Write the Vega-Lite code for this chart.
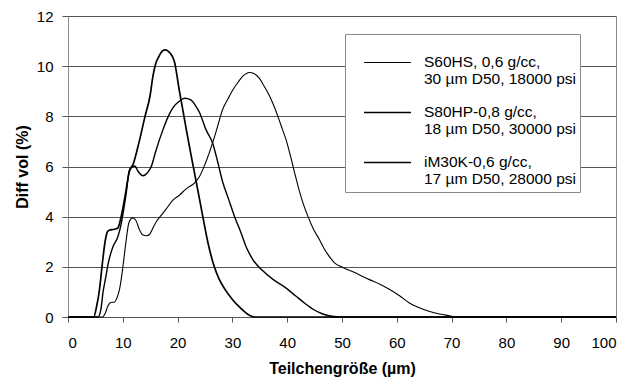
{
  "$schema": "https://vega.github.io/schema/vega-lite/v6.json",
  "width": 548,
  "height": 301,
  "autosize": {"type": "none"},
  "padding": {"left": 68, "top": 16, "right": 13, "bottom": 63},
  "background": "white",
  "config": {
    "view": {"stroke": "#8a8a8a", "strokeWidth": 1},
    "font": "Liberation Sans"
  },
  "datasets": {
    "curves": [
      {"s": "A", "x": 0, "y": 0}, {"s": "A", "x": 6.3, "y": 0}, {"s": "A", "x": 6.8, "y": 0.15}, {"s": "A", "x": 7.3, "y": 0.45}, {"s": "A", "x": 7.8, "y": 0.58}, {"s": "A", "x": 8.5, "y": 0.6}, {"s": "A", "x": 9, "y": 0.8}, {"s": "A", "x": 9.4, "y": 1.1}, {"s": "A", "x": 9.9, "y": 1.8}, {"s": "A", "x": 10.3, "y": 2.5}, {"s": "A", "x": 10.7, "y": 3.2}, {"s": "A", "x": 11.1, "y": 3.75}, {"s": "A", "x": 11.8, "y": 3.95}, {"s": "A", "x": 12.4, "y": 3.85}, {"s": "A", "x": 13, "y": 3.5}, {"s": "A", "x": 13.6, "y": 3.28}, {"s": "A", "x": 14.3, "y": 3.24}, {"s": "A", "x": 14.9, "y": 3.3}, {"s": "A", "x": 15.5, "y": 3.55}, {"s": "A", "x": 16.1, "y": 3.8}, {"s": "A", "x": 17, "y": 4.05}, {"s": "A", "x": 17.9, "y": 4.3}, {"s": "A", "x": 19.1, "y": 4.65}, {"s": "A", "x": 20.3, "y": 4.85}, {"s": "A", "x": 21.5, "y": 5.1}, {"s": "A", "x": 23.1, "y": 5.35}, {"s": "A", "x": 24, "y": 5.6}, {"s": "A", "x": 25.2, "y": 6.2}, {"s": "A", "x": 26.4, "y": 6.95}, {"s": "A", "x": 27.3, "y": 7.6}, {"s": "A", "x": 28.2, "y": 8.26}, {"s": "A", "x": 29.2, "y": 8.7}, {"s": "A", "x": 30.1, "y": 9.06}, {"s": "A", "x": 31, "y": 9.35}, {"s": "A", "x": 31.9, "y": 9.6}, {"s": "A", "x": 33.1, "y": 9.75}, {"s": "A", "x": 34, "y": 9.7}, {"s": "A", "x": 34.9, "y": 9.52}, {"s": "A", "x": 35.8, "y": 9.2}, {"s": "A", "x": 36.8, "y": 8.8}, {"s": "A", "x": 37.6, "y": 8.4}, {"s": "A", "x": 38.3, "y": 8.0}, {"s": "A", "x": 39.1, "y": 7.5}, {"s": "A", "x": 39.8, "y": 7.06}, {"s": "A", "x": 40.5, "y": 6.5}, {"s": "A", "x": 41.3, "y": 5.8}, {"s": "A", "x": 42, "y": 5.2}, {"s": "A", "x": 42.8, "y": 4.6}, {"s": "A", "x": 43.8, "y": 4.0}, {"s": "A", "x": 44.8, "y": 3.5}, {"s": "A", "x": 45.9, "y": 3.08}, {"s": "A", "x": 46.8, "y": 2.7}, {"s": "A", "x": 47.7, "y": 2.41}, {"s": "A", "x": 48.7, "y": 2.15}, {"s": "A", "x": 49.9, "y": 2.0}, {"s": "A", "x": 52, "y": 1.8}, {"s": "A", "x": 55, "y": 1.49}, {"s": "A", "x": 57, "y": 1.3}, {"s": "A", "x": 58.7, "y": 1.1}, {"s": "A", "x": 60.5, "y": 0.85}, {"s": "A", "x": 62.3, "y": 0.56}, {"s": "A", "x": 64, "y": 0.38}, {"s": "A", "x": 66, "y": 0.22}, {"s": "A", "x": 67.8, "y": 0.12}, {"s": "A", "x": 69.6, "y": 0.05}, {"s": "A", "x": 71, "y": 0}, {"s": "A", "x": 100, "y": 0},

      {"s": "B", "x": 0, "y": 0}, {"s": "B", "x": 5.5, "y": 0}, {"s": "B", "x": 6, "y": 0.3}, {"s": "B", "x": 6.4, "y": 1.0}, {"s": "B", "x": 6.9, "y": 1.6}, {"s": "B", "x": 7.3, "y": 2.1}, {"s": "B", "x": 8.2, "y": 2.8}, {"s": "B", "x": 9.1, "y": 3.2}, {"s": "B", "x": 9.6, "y": 3.6}, {"s": "B", "x": 10.1, "y": 4.2}, {"s": "B", "x": 10.6, "y": 4.9}, {"s": "B", "x": 11.2, "y": 5.85}, {"s": "B", "x": 11.8, "y": 6.0}, {"s": "B", "x": 12.2, "y": 6.02}, {"s": "B", "x": 12.8, "y": 5.8}, {"s": "B", "x": 13.7, "y": 5.63}, {"s": "B", "x": 14.5, "y": 5.75}, {"s": "B", "x": 15.2, "y": 6.0}, {"s": "B", "x": 16, "y": 6.6}, {"s": "B", "x": 17.3, "y": 7.45}, {"s": "B", "x": 18.3, "y": 8.0}, {"s": "B", "x": 19.1, "y": 8.33}, {"s": "B", "x": 20.3, "y": 8.6}, {"s": "B", "x": 21.3, "y": 8.72}, {"s": "B", "x": 22.4, "y": 8.66}, {"s": "B", "x": 23.2, "y": 8.45}, {"s": "B", "x": 24, "y": 8.15}, {"s": "B", "x": 25.2, "y": 7.46}, {"s": "B", "x": 26.4, "y": 6.93}, {"s": "B", "x": 27.3, "y": 6.2}, {"s": "B", "x": 28.2, "y": 5.4}, {"s": "B", "x": 29.3, "y": 4.7}, {"s": "B", "x": 30.4, "y": 4.0}, {"s": "B", "x": 31.5, "y": 3.4}, {"s": "B", "x": 32.5, "y": 2.8}, {"s": "B", "x": 33.7, "y": 2.3}, {"s": "B", "x": 35.5, "y": 1.85}, {"s": "B", "x": 37.4, "y": 1.5}, {"s": "B", "x": 39.5, "y": 1.2}, {"s": "B", "x": 41.5, "y": 0.85}, {"s": "B", "x": 43.2, "y": 0.55}, {"s": "B", "x": 44.8, "y": 0.3}, {"s": "B", "x": 46.5, "y": 0.12}, {"s": "B", "x": 48.5, "y": 0.02}, {"s": "B", "x": 49.5, "y": 0}, {"s": "B", "x": 100, "y": 0},

      {"s": "C", "x": 0, "y": 0}, {"s": "C", "x": 4.7, "y": 0}, {"s": "C", "x": 5.2, "y": 0.4}, {"s": "C", "x": 5.75, "y": 1.1}, {"s": "C", "x": 6.2, "y": 2.0}, {"s": "C", "x": 6.8, "y": 3.05}, {"s": "C", "x": 7.2, "y": 3.4}, {"s": "C", "x": 7.6, "y": 3.47}, {"s": "C", "x": 8.5, "y": 3.5}, {"s": "C", "x": 9.1, "y": 3.55}, {"s": "C", "x": 9.7, "y": 4.0}, {"s": "C", "x": 10.4, "y": 4.8}, {"s": "C", "x": 11.2, "y": 5.8}, {"s": "C", "x": 11.9, "y": 6.1}, {"s": "C", "x": 13, "y": 7.0}, {"s": "C", "x": 14, "y": 7.95}, {"s": "C", "x": 15, "y": 8.85}, {"s": "C", "x": 15.5, "y": 9.6}, {"s": "C", "x": 16, "y": 10.1}, {"s": "C", "x": 16.5, "y": 10.35}, {"s": "C", "x": 17.2, "y": 10.6}, {"s": "C", "x": 17.8, "y": 10.65}, {"s": "C", "x": 18.5, "y": 10.55}, {"s": "C", "x": 19.4, "y": 10.2}, {"s": "C", "x": 20.3, "y": 9.05}, {"s": "C", "x": 21, "y": 8.2}, {"s": "C", "x": 21.6, "y": 7.46}, {"s": "C", "x": 22.5, "y": 6.4}, {"s": "C", "x": 23.3, "y": 5.5}, {"s": "C", "x": 24, "y": 4.7}, {"s": "C", "x": 24.6, "y": 4.0}, {"s": "C", "x": 25.5, "y": 3.0}, {"s": "C", "x": 26.7, "y": 2.0}, {"s": "C", "x": 27.5, "y": 1.55}, {"s": "C", "x": 28.5, "y": 1.15}, {"s": "C", "x": 30, "y": 0.7}, {"s": "C", "x": 31.5, "y": 0.35}, {"s": "C", "x": 33, "y": 0.08}, {"s": "C", "x": 34, "y": 0}, {"s": "C", "x": 100, "y": 0}
    ],
    "names": [
      {"s": "A", "name": "S60HS, 0,6 g/cc,|30 µm D50, 18000 psi"},
      {"s": "B", "name": "S80HP-0,8 g/cc,|18 µm D50, 30000 psi"},
      {"s": "C", "name": "iM30K-0,6 g/cc,|17 µm D50, 28000 psi"}
    ]
  },
  "data": {"name": "curves"},
  "transform": [
    {"lookup": "s", "from": {"data": {"name": "names"}, "key": "s", "fields": ["name"]}}
  ],
  "mark": {"type": "line", "color": "black", "interpolate": "monotone", "clip": false},
  "encoding": {
    "x": {
      "field": "x", "type": "quantitative",
      "scale": {"domain": [0, 100], "nice": false},
      "axis": {
        "values": [0, 10, 20, 30, 40, 50, 60, 70, 80, 90, 100],
        "title": "Teilchengröße (µm)",
        "grid": false, "domain": false,
        "tickSize": 5, "tickColor": "#555",
        "labelPadding": 13, "labelFontSize": 15, "labelColor": "black", "labelFont": "Liberation Sans",
        "titleFontSize": 16, "titleFontWeight": "bold", "titleColor": "black", "titlePadding": 10, "titleFont": "Liberation Sans"
      }
    },
    "y": {
      "field": "y", "type": "quantitative",
      "scale": {"domain": [0, 12], "nice": false},
      "axis": {
        "values": [0, 2, 4, 6, 8, 10, 12],
        "title": "Diff vol (%)",
        "grid": true, "gridColor": "#555", "gridWidth": 1, "gridOpacity": 1,
        "domain": false,
        "tickSize": 6, "tickColor": "#555",
        "labelPadding": 9, "labelFontSize": 15, "labelColor": "black", "labelFont": "Liberation Sans",
        "titleFontSize": 16, "titleFontWeight": "bold", "titleColor": "black", "titlePadding": 6, "titleFont": "Liberation Sans"
      }
    },
    "strokeWidth": {
      "field": "name", "type": "ordinal",
      "scale": {
        "domain": ["S60HS, 0,6 g/cc,|30 µm D50, 18000 psi", "S80HP-0,8 g/cc,|18 µm D50, 30000 psi", "iM30K-0,6 g/cc,|17 µm D50, 28000 psi"],
        "range": [1.1, 1.7, 2.3]
      },
      "legend": {
        "orient": "none", "legendX": 277, "legendY": 18,
        "title": null,
        "symbolType": "stroke", "symbolSize": 2200, "symbolStrokeColor": "black", "symbolOffset": 14,
        "labelExpr": "split(datum.label, '|')",
        "labelFont": "Liberation Sans", "labelFontSize": 15.5, "labelColor": "black",
        "labelLimit": 400, "labelOffset": 12, "labelBaseline": "top", "labelLineHeight": 15,
        "padding": 4, "rowPadding": 0,
        "strokeColor": "#8a8a8a", "fillColor": "white",
        "encode": {"labels": {"update": {"dy": {"value": -8}}}}
      }
    },
    "order": {"field": "x", "type": "quantitative"}
  }
}
